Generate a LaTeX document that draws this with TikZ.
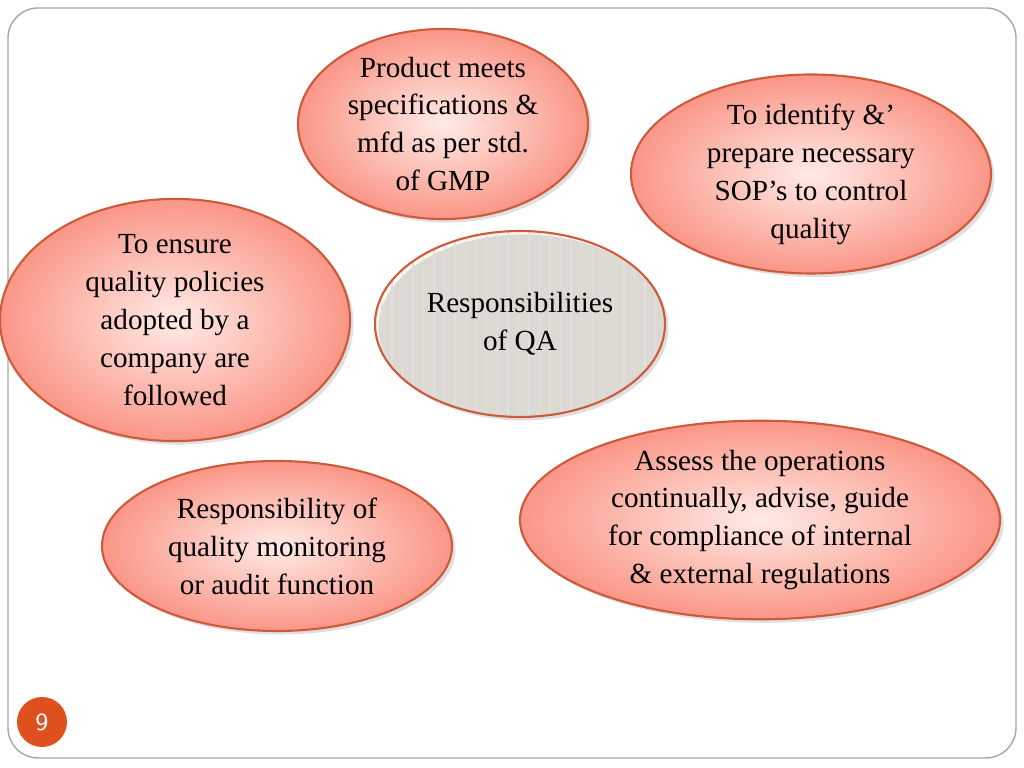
\documentclass[tikz,border=0pt]{standalone}
\usepackage{fontspec}
\setmainfont{Liberation Serif}
\usetikzlibrary{shapes.geometric}
\usetikzlibrary{patterns}
\usetikzlibrary{shadows}
\definecolor{rimred}{RGB}{205,90,60}
\definecolor{outerpink}{RGB}{250,150,135}
\definecolor{innerpink}{RGB}{255,235,230}
\definecolor{beige}{RGB}{250,247,238}
\definecolor{badge}{RGB}{222,80,30}

\tikzset{
  duty/.style={ellipse, draw=rimred, semithick, inner sep=0pt, align=center,
    font=\fontsize{8.3}{10.8}\selectfont, inner color=innerpink, outer color=outerpink,
    drop shadow={shadow xshift=1pt, shadow yshift=-1pt, opacity=0.25}},
  hub/.style={ellipse, draw=rimred, semithick, inner sep=0pt, align=center,
    font=\fontsize{8.3}{10.8}\selectfont,
    preaction={fill=beige}, pattern=vertical lines, pattern color=gray!25,
    drop shadow={shadow xshift=1pt, shadow yshift=-1pt, opacity=0.25}}
}

\begin{document}
\begin{tikzpicture}
\useasboundingbox (0,0) rectangle (10.24,7.68);
\draw[gray!70, rounded corners=0.3cm] (0.08,0.1) rectangle (10.16,7.6);

\node[duty, minimum width=2.9cm, minimum height=1.8cm] (gmp) at (4.43,6.44)
  {Product meets\\specifications \&\\mfd as per std.\\of GMP};
\node[duty, minimum width=3.6cm, minimum height=1.8cm] (sop) at (8.11,5.94)
  {To identify \&’\\prepare necessary\\SOP’s to control\\quality};
\node[duty, minimum width=3.5cm, minimum height=2.14cm] (policy) at (1.75,4.48)
  {To ensure\\quality policies\\adopted by a\\company are\\followed};
\node[hub, minimum width=2.9cm, minimum height=1.86cm] (qa) at (5.2,4.44)
  {Responsibilities\\of QA};
\node[duty, minimum width=4.8cm, minimum height=1.86cm] (assess) at (7.6,2.48)
  {Assess the operations\\continually, advise, guide\\for compliance of internal\\\& external regulations};
\node[duty, minimum width=3.5cm, minimum height=1.7cm] (audit) at (2.77,2.22)
  {Responsibility of\\quality monitoring\\or audit function};

\node[circle, fill=badge, minimum size=0.5cm, inner sep=0pt, text=white,
  font=\sffamily\fontsize{7}{8}\selectfont] (page) at (0.42,0.46) {9};
\end{tikzpicture}
\end{document}
